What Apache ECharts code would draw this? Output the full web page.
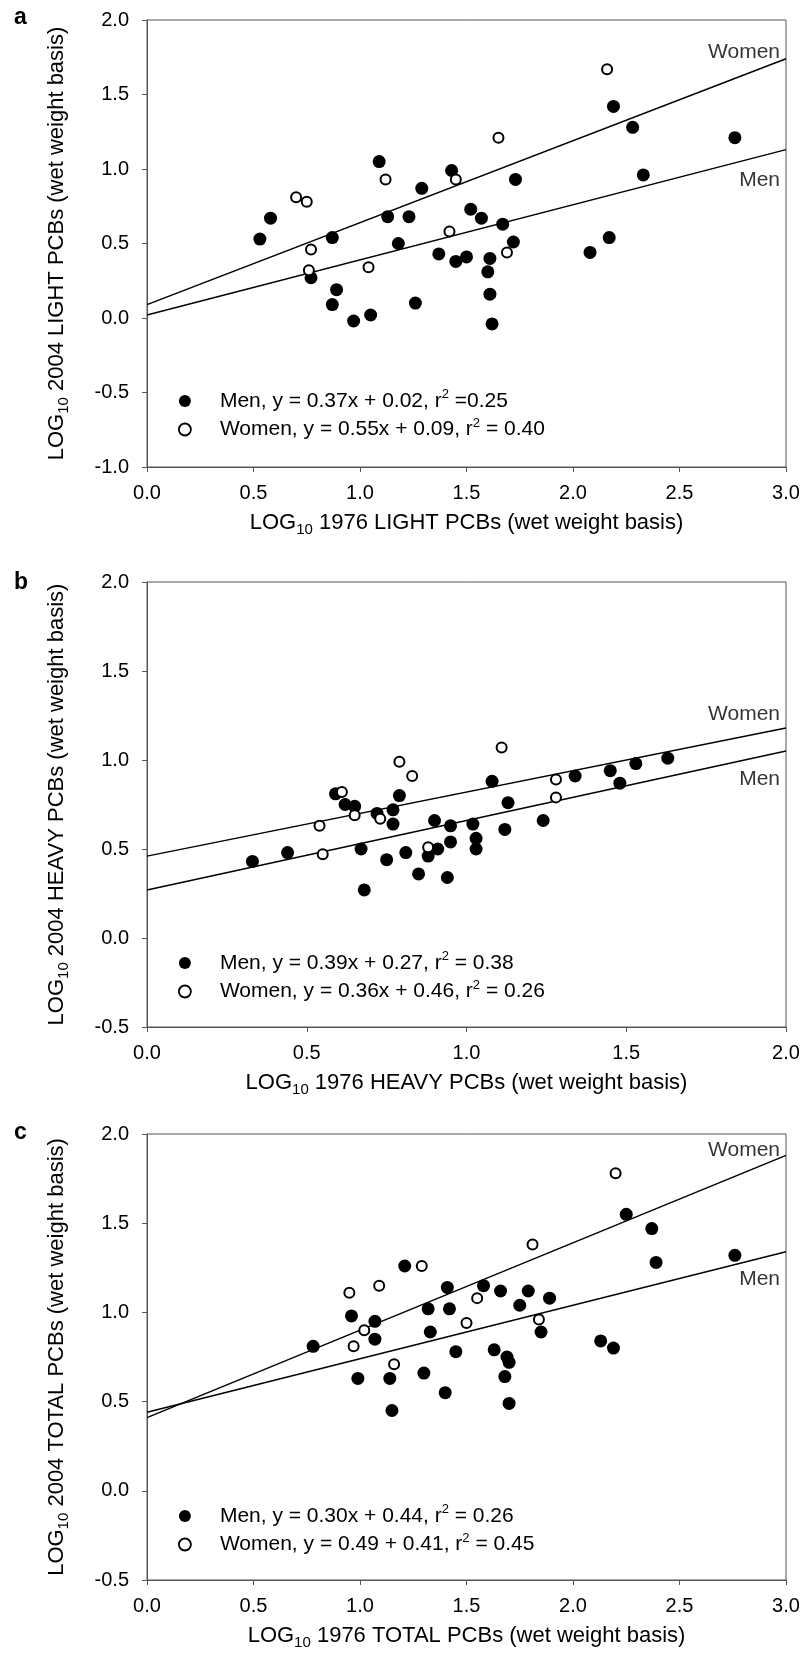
<!DOCTYPE html>
<html><head><meta charset="utf-8">
<script src="https://cdn.jsdelivr.net/npm/echarts@6/dist/echarts.min.js"></script>
<style>html,body{margin:0;padding:0;background:#fff}#c{width:803px;height:1657px}</style>
</head><body><div id="c"></div>
<script>
// ---- data ----
const panelLetters = ['a', 'b', 'c'];
const pcbTypes = ['LIGHT', 'HEAVY', 'TOTAL'];
const xMaxes = [3, 2, 3];
const yMins = [-1, -0.5, -0.5];
const yMaxes = [2, 2, 2];

const lightMen = [[0.53,0.53],[0.58,0.67],[0.87,0.54],[0.77,0.27],[0.89,0.19],[0.87,0.09],[0.97,-0.02],[1.05,0.02],[1.09,1.05],[1.13,0.68],[1.18,0.50],[1.23,0.68],[1.29,0.87],[1.26,0.10],[1.37,0.43],[1.43,0.99],[1.45,0.38],[1.50,0.41],[1.52,0.73],[1.57,0.67],[1.61,0.40],[1.60,0.31],[1.61,0.16],[1.62,-0.04],[1.67,0.63],[1.72,0.51],[1.73,0.93],[2.08,0.44],[2.17,0.54],[2.19,1.42],[2.28,1.28],[2.33,0.96],[2.76,1.21]];
const lightWomen = [[0.70,0.81],[0.75,0.78],[0.77,0.46],[0.76,0.32],[1.04,0.34],[1.12,0.93],[1.45,0.93],[1.42,0.58],[1.69,0.44],[1.65,1.21],[2.16,1.67]];

const heavyMen = [[0.33,0.43],[0.44,0.48],[0.59,0.81],[0.62,0.75],[0.65,0.74],[0.67,0.50],[0.68,0.27],[0.72,0.70],[0.75,0.44],[0.77,0.72],[0.77,0.64],[0.79,0.80],[0.81,0.48],[0.85,0.36],[0.88,0.46],[0.90,0.66],[0.91,0.50],[0.94,0.34],[0.95,0.54],[0.95,0.63],[1.02,0.64],[1.03,0.56],[1.03,0.50],[1.08,0.88],[1.12,0.61],[1.13,0.76],[1.24,0.66],[1.34,0.91],[1.45,0.94],[1.48,0.87],[1.53,0.98],[1.63,1.01]];
const heavyWomen = [[0.54,0.63],[0.55,0.47],[0.61,0.82],[0.65,0.69],[0.73,0.67],[0.79,0.99],[0.83,0.91],[0.88,0.51],[1.11,1.07],[1.28,0.89],[1.28,0.79]];

const totalMen = [[0.78,0.81],[0.96,0.98],[0.99,0.63],[1.07,0.95],[1.07,0.85],[1.14,0.63],[1.15,0.45],[1.21,1.26],[1.30,0.66],[1.32,1.02],[1.33,0.89],[1.40,0.55],[1.41,1.14],[1.42,1.02],[1.45,0.78],[1.58,1.15],[1.63,0.79],[1.66,1.12],[1.68,0.64],[1.69,0.75],[1.70,0.72],[1.70,0.49],[1.75,1.04],[1.79,1.12],[1.85,0.89],[1.89,1.08],[2.13,0.84],[2.19,0.80],[2.25,1.55],[2.37,1.47],[2.39,1.28],[2.76,1.32]];
const totalWomen = [[0.95,1.11],[0.97,0.81],[1.02,0.90],[1.09,1.15],[1.16,0.71],[1.29,1.26],[1.50,0.94],[1.55,1.08],[1.81,1.38],[1.84,0.96],[2.20,1.78]];

// regression [slope, intercept] as printed in each legend
const menFit = [[0.37, 0.02], [0.39, 0.27], [0.30, 0.44]];
const womenFit = [[0.55, 0.09], [0.36, 0.46], [0.49, 0.41]];

const menLegend = [
  ['Men, y = 0.37x + 0.02, r', ' =0.25'],
  ['Men, y = 0.39x + 0.27, r', ' = 0.38'],
  ['Men, y = 0.30x + 0.44, r', ' = 0.26']
];
const womenLegend = [
  ['Women, y = 0.55x + 0.09, r', ' = 0.40'],
  ['Women, y = 0.36x + 0.46, r', ' = 0.26'],
  ['Women, y = 0.49 + 0.41, r', ' = 0.45']
];

const menData = [lightMen, heavyMen, totalMen];
const womenData = [lightWomen, heavyWomen, totalWomen];

// ---- layout (styles, not data) ----
const FONT = '"Liberation Sans", Arial, Helvetica, sans-serif';
const gridTops = [20, 582, 1134];
const gridHeights = [447, 445, 446];
const legendTops = [388, 950, 1503];
const letterBaselines = [25, 590, 1140];
const womenLabelDy = [-7, -14, -5];
const menLabelDy = [31, 28, 27];

const chart = echarts.init(document.getElementById('c'), null, {renderer: 'canvas'});

const nameRich = {
  n: {fontSize: 22, lineHeight: 28, verticalAlign: 'middle', color: '#000', fontFamily: FONT},
  s: {fontSize: 15, lineHeight: 10, verticalAlign: 'bottom', color: '#000', fontFamily: FONT}
};
const legRich = {
  t: {fontSize: 21, lineHeight: 26, verticalAlign: 'middle', color: '#000', fontFamily: FONT},
  sup: {fontSize: 13, lineHeight: 8, verticalAlign: 'top', color: '#000', fontFamily: FONT}
};

const grids = [], xAxes = [], yAxes = [], series = [], legends = [], graphics = [];
const legendMap = {};

for (let i = 0; i < 3; i++) {
  grids.push({left: 147, top: gridTops[i], width: 639, height: gridHeights[i],
    show: true, borderColor: '#555', borderWidth: 1, backgroundColor: 'transparent',
    containLabel: false, outerBoundsMode: 'none'});
  xAxes.push({
    type: 'value', gridIndex: i, min: 0, max: xMaxes[i], interval: 0.5,
    axisLine: {show: true, onZero: false, lineStyle: {color: '#555', width: 1}},
    axisTick: {show: true, inside: false, length: 5, lineStyle: {color: '#555'}},
    splitLine: {show: false},
    axisLabel: {fontSize: 20, color: '#000', fontFamily: FONT, margin: 16,
      formatter: v => v.toFixed(1), showMinLabel: true, showMaxLabel: true, hideOverlap: false},
    name: '{n|LOG}{s|10}{n| 1976 ' + pcbTypes[i] + ' PCBs (wet weight basis)}',
    nameLocation: 'middle', nameGap: 42, nameMoveOverlap: false,
    nameTextStyle: {rich: nameRich, fontFamily: FONT}
  });
  yAxes.push({
    type: 'value', gridIndex: i, min: yMins[i], max: yMaxes[i], interval: 0.5,
    axisLine: {show: true, onZero: false, lineStyle: {color: '#555', width: 1}},
    axisTick: {show: true, inside: false, length: 5, lineStyle: {color: '#555'}},
    splitLine: {show: false},
    axisLabel: {fontSize: 20, color: '#000', fontFamily: FONT, margin: 18,
      formatter: v => v.toFixed(1), showMinLabel: true, showMaxLabel: true, hideOverlap: false},
    name: '{n|LOG}{s|10}{n| 2004 ' + pcbTypes[i] + ' PCBs (wet weight basis)}',
    nameLocation: 'middle', nameGap: 76, nameRotate: 90, nameMoveOverlap: false,
    nameTextStyle: {rich: nameRich, fontFamily: FONT}
  });

  const xm = xMaxes[i];
  const fits = [womenFit[i], menFit[i]];
  fits.forEach(f => {
    series.push({
      type: 'line', xAxisIndex: i, yAxisIndex: i, silent: true, z: 1,
      showSymbol: false, symbol: 'none', animation: false,
      lineStyle: {color: '#000', width: 1.5},
      data: [[0, f[1]], [xm, f[0] * xm + f[1]]]
    });
  });

  const menName = 'men' + i, womenName = 'women' + i;
  legendMap[menName] = '{t|' + menLegend[i][0] + '}{sup|2}{t|' + menLegend[i][1] + '}';
  legendMap[womenName] = '{t|' + womenLegend[i][0] + '}{sup|2}{t|' + womenLegend[i][1] + '}';

  series.push({
    name: menName, type: 'scatter', xAxisIndex: i, yAxisIndex: i, z: 3,
    symbol: 'circle', symbolSize: 13,
    itemStyle: {color: '#000', borderColor: '#000', borderWidth: 0, opacity: 1},
    data: menData[i]
  });
  series.push({
    name: womenName, type: 'scatter', xAxisIndex: i, yAxisIndex: i, z: 4,
    symbol: 'circle', symbolSize: 10,
    itemStyle: {color: '#fff', borderColor: '#000', borderWidth: 2, opacity: 1},
    data: womenData[i]
  });

  // line-end labels
  series.push({
    type: 'scatter', xAxisIndex: i, yAxisIndex: i, z: 5, silent: true,
    symbol: 'circle', symbolSize: 1, itemStyle: {color: 'rgba(0,0,0,0)'},
    data: [
      {value: [xm, womenFit[i][0] * xm + womenFit[i][1]],
       label: {show: true, formatter: 'Women', position: 'inside', align: 'right', verticalAlign: 'middle',
         offset: [-6, womenLabelDy[i]], fontSize: 21, color: '#000', fontFamily: FONT}},
      {value: [xm, menFit[i][0] * xm + menFit[i][1]],
       label: {show: true, formatter: 'Men', position: 'inside', align: 'right', verticalAlign: 'middle',
         offset: [-6, menLabelDy[i]], fontSize: 21, color: '#000', fontFamily: FONT}}
    ]
  });

  legends.push({
    left: 178, top: legendTops[i], orient: 'vertical', selectedMode: false,
    itemWidth: 60, itemHeight: 12, itemGap: 5, symbolKeepAspect: true,
    padding: 0,
    data: [
      {name: menName, icon: 'circle', itemStyle: {color: '#000', borderWidth: 0}},
      {name: womenName, icon: 'circle', itemStyle: {color: '#fff', borderColor: '#000', borderWidth: 1.8}}
    ],
    formatter: name => legendMap[name],
    textStyle: {fontSize: 21, color: '#000', fontFamily: FONT, rich: legRich}
  });

  graphics.push({
    type: 'text', left: 14, top: letterBaselines[i] - 19,
    style: {text: panelLetters[i], fontSize: 23, fontWeight: 'bold', fill: '#000', fontFamily: FONT}
  });
}

chart.setOption({
  animation: false,
  backgroundColor: '#fff',
  grid: grids,
  xAxis: xAxes,
  yAxis: yAxes,
  legend: legends,
  graphic: graphics,
  series: series
});
</script>
</body></html>
